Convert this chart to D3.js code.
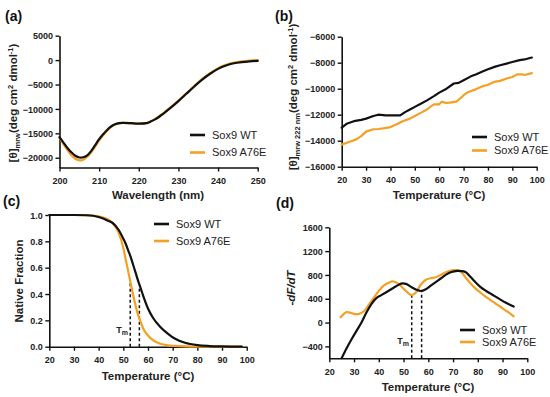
<!DOCTYPE html>
<html><head><meta charset="utf-8">
<script src="https://cdn.jsdelivr.net/npm/d3@7/dist/d3.min.js"></script>
<style>
body{margin:0;background:#fff;}
svg{font-family:"Liberation Sans",Arial,sans-serif;}
</style></head>
<body><svg id="c" width="550" height="397"></svg>
<script>
// ---------- Data ----------
// (a) CD spectra
const wavelength = [200,201,202,203,204,205,206,207,208,209,210,211,212,213,214,215,216,218,220,222,223,224,225,226,228,230,232,234,236,238,240,242,244,246,248,250];
const cdWT   = [-15800,-16900,-18000,-18900,-19600,-19950,-19900,-19500,-18600,-17400,-16200,-15200,-14300,-13600,-13150,-12900,-12850,-12900,-13000,-12900,-12600,-12200,-11700,-11100,-9800,-8400,-6900,-5400,-4000,-2800,-1800,-1100,-650,-400,-250,-150];
const cdA76E = [-15900,-17200,-18400,-19500,-20200,-20550,-20400,-19800,-18900,-17700,-16500,-15400,-14500,-13700,-13200,-12950,-12850,-12950,-13000,-12850,-12550,-12100,-11600,-11000,-9700,-8300,-6800,-5300,-3850,-2650,-1650,-950,-500,-250,-100,0];

// (b) thermal melt at 222 nm
const tempB_WT = [20,22,25,28,30,33,35,38,40,42,44,46,48,50,53,55,58,60,63,66,68,70,73,75,78,80,83,85,88,90,93,95,98];
const melWT    = [-13000,-12700,-12500,-12400,-12300,-12100,-12000,-12050,-12050,-12050,-12050,-11800,-11600,-11400,-11100,-10900,-10550,-10300,-10000,-9600,-9550,-9350,-9050,-8900,-8650,-8500,-8300,-8200,-8050,-7950,-7800,-7750,-7600];
const tempB_A  = [20,23,26,28,30,33,35,37,40,43,45,48,50,53,55,57,58,60,61,62,63,65,67,68,70,72,75,78,80,83,85,88,90,92,94,95,98];
const melA76E  = [-14300,-14100,-13900,-13650,-13300,-13120,-13100,-13050,-12950,-12700,-12500,-12300,-12100,-11800,-11600,-11300,-11200,-11200,-11000,-11050,-11100,-11050,-11000,-10850,-10500,-10250,-10050,-9800,-9700,-9450,-9400,-9200,-9100,-8900,-8900,-8950,-8800];

// (c) native fraction
const tempC = [20,30,35,40,44,46,48,50,51,52,53,54,55,56,57,58,60,62,65,68,71,75,80,85,90,98];
const nfWT   = [1.0,1.0,0.998,0.985,0.955,0.935,0.89,0.82,0.78,0.73,0.68,0.62,0.56,0.50,0.445,0.39,0.29,0.22,0.15,0.10,0.06,0.03,0.012,0.005,0.002,0.0];
const nfA76E = [1.0,1.0,0.999,0.99,0.965,0.93,0.87,0.75,0.66,0.57,0.48,0.39,0.31,0.24,0.19,0.14,0.085,0.05,0.022,0.01,0.006,0.002,0.0,0.0,0.0,0.0];
const tmC = {WT:[56.5,0.46], A76E:[52.8,0.49]};

// (d) -dF/dT
const tempD_WT = [25,27,29,31,33,35,37,39,41,43,45,47,49,51,53,55,57,59,61,63,65,67,69,71,73,75,77,79,81,83,85,87,89,91,93,94.5];
const dWT      = [-597,-430,-280,-140,0,170,310,410,460,510,560,610,655,650,600,555,530,560,620,680,740,800,845,865,865,850,770,680,600,540,490,440,390,340,300,270];
const tempD_A  = [24.6,26,27,28,30,32,34,36,38,40,42,44,46,48,50,52,53.3,55,57,59,61,63,65,67,69,71,73,75,77,79,81,83,85,87,89,91,93,94.5];
const dA76E    = [90,150,175,170,145,145,190,300,420,530,620,670,690,650,570,490,460,505,640,720,745,760,800,845,875,880,865,760,660,575,505,440,380,325,270,210,155,105];
const tmD = {WT:[57.3,530], A76E:[53.3,460]};

const ticksA_x = [200,210,220,230,240,250], ticksA_y = [-20000,-15000,-10000,-5000,0,5000];
const ticksB_x = [20,30,40,50,60,70,80,90,100], ticksB_y = [-16000,-14000,-12000,-10000,-8000,-6000];
const ticksC_x = [20,30,40,50,60,70,80,90,100], ticksC_y = [0,0.2,0.4,0.6,0.8,1.0];
const ticksD_x = [20,30,40,50,60,70,80,90,100], ticksD_y = [-400,0,400,800,1200,1600];
const seriesNames = ["Sox9 WT","Sox9 A76E"];

// ---------- Drawing ----------
const svg = d3.select("#c");
const BLACK = "#111", ORANGE = "#f4a024";

function panel(o){
  const g = svg.append("g");
  const x = d3.scaleLinear().domain(o.xd).range([o.x0,o.x1]);
  const y = d3.scaleLinear().domain(o.yd).range([o.y1,o.y0]);
  const ax = g.append("g").attr("transform",`translate(0,${o.y1})`)
    .call(d3.axisBottom(x).tickValues(o.tx).tickSize(4).tickSizeOuter(0).tickPadding(3).tickFormat(d3.format("d")));
  const ay = g.append("g").attr("transform",`translate(${o.x0},0)`)
    .call(d3.axisLeft(y).tickValues(o.ty).tickSize(4).tickSizeOuter(0).tickPadding(2.5).tickFormat(o.fmt||d3.format("d")));
  [ax,ay].forEach(a=>{
    a.select(".domain").attr("stroke","#111").attr("stroke-width",1.6);
    a.selectAll(".tick line").attr("stroke","#111").attr("stroke-width",1.4);
    a.selectAll("text").attr("font-size",9).attr("font-weight","bold").attr("fill","#222");
  });
  ax.selectAll("text").attr("dy","1.05em");
  ay.selectAll("text").attr("dy","0.35em");
  return {g,x,y};
}

function drawLine(p, xs, ys, color, curve){
  const pts = xs.map((v,i)=>[v,ys[i]]);
  p.g.append("path").datum(pts)
    .attr("fill","none").attr("stroke",color).attr("stroke-width",2.2)
    .attr("stroke-linejoin","round").attr("stroke-linecap","round")
    .attr("d", d3.line().x(d=>p.x(d[0])).y(d=>p.y(d[1])).curve(curve||d3.curveMonotoneX));
}

function legend(lx, ly, dy){
  [BLACK,ORANGE].forEach((c,i)=>{
    svg.append("line").attr("x1",lx).attr("x2",lx+15).attr("y1",ly+i*dy).attr("y2",ly+i*dy)
      .attr("stroke",c).attr("stroke-width",2.6);
    svg.append("text").attr("x",lx+22).attr("y",ly+i*dy).attr("dy","0.35em")
      .attr("font-size",11).attr("fill","#222").text(seriesNames[i]);
  });
}

function title(t,x,y){
  svg.append("text").attr("x",x).attr("y",y).attr("font-size",14).attr("font-weight","bold").attr("fill","#111").text(t);
}

function xLabel(t,x,y){
  svg.append("text").attr("x",x).attr("y",y).attr("text-anchor","middle").attr("font-size",11.5)
    .attr("font-weight","bold").attr("fill","#222").text(t);
}

function yLabelParts(parts,x,y,italic){
  const t = svg.append("text").attr("transform",`translate(${x},${y}) rotate(-90)`)
    .attr("text-anchor","middle").attr("font-size",11.5).attr("font-weight","bold").attr("fill","#222");
  if(italic) t.attr("font-style","italic");
  parts.forEach(p=>{
    const s = t.append("tspan").text(p[0]);
    if(p[1]==="sub") s.attr("font-size",7.5).attr("dy",3);
    if(p[1]==="sup") s.attr("font-size",7.5).attr("dy",-4);
    if(p[1]==="base") s.attr("dy",p[2]);
  });
}

function tmMarks(p, tm, yr){
  [tm.WT, tm.A76E].forEach(d=>{
    p.g.append("line").attr("x1",p.x(d[0])).attr("x2",p.x(d[0]))
      .attr("y1",p.y(yr)).attr("y2",p.y(d[1]))
      .attr("stroke","#111").attr("stroke-width",1.5).attr("stroke-dasharray","3,2.5");
  });
}

function tmLabel(x,y){
  const t = svg.append("text").attr("x",x).attr("y",y).attr("text-anchor","end")
    .attr("font-size",9).attr("font-weight","bold").attr("fill","#222");
  t.append("tspan").text("T");
  t.append("tspan").text("m").attr("font-size",7).attr("dy",2);
}

// Panel (a)
const pa = panel({xd:[200,250], yd:[-22000,5000], x0:59.5, x1:257.7, y0:35.7, y1:167.5, tx:ticksA_x, ty:ticksA_y});
drawLine(pa, wavelength, cdA76E, ORANGE, d3.curveCatmullRom);
drawLine(pa, wavelength, cdWT, BLACK, d3.curveCatmullRom);
legend(190, 135, 17.5);
title("(a)", 5, 21);
xLabel("Wavelength (nm)", 158, 199);
yLabelParts([["[θ]"],["mrw","sub"],["(deg cm","base",-3],["2","sup"],[" dmol","base",4],["-1","sup"],[")","base",4]], 17, 103);

// Panel (b)
const pb = panel({xd:[20,100], yd:[-16000,-6000], x0:341.7, x1:536.7, y0:36.7, y1:166.7, tx:ticksB_x, ty:ticksB_y});
drawLine(pb, tempB_A, melA76E, ORANGE, d3.curveLinear);
drawLine(pb, tempB_WT, melWT, BLACK, d3.curveLinear);
legend(472, 137, 13.5);
title("(b)", 275, 21);
xLabel("Temperature (°C)", 439, 199);
yLabelParts([["[θ]"],["mrw 222 nm","sub"],["(deg cm","base",-3],["2","sup"],[" dmol","base",4],["-1","sup"],[")","base",4]], 297, 97);

// Panel (c)
const pc = panel({xd:[20,100], yd:[0,1], x0:49.3, x1:246.7, y0:215, y1:346.7, tx:ticksC_x, ty:ticksC_y, fmt:d3.format(".1f")});
tmMarks(pc, tmC, 0);
drawLine(pc, tempC, nfA76E, ORANGE);
drawLine(pc, tempC, nfWT, BLACK);
legend(154, 224, 17);
title("(c)", 3, 206);
xLabel("Temperature (°C)", 148, 380);
yLabelParts([["Native Fraction"]], 23, 281);
tmLabel(128, 333);

// Panel (d)
const pd = panel({xd:[20,100], yd:[-600,1600], x0:329.3, x1:527.3, y0:227.3, y1:358.3, tx:ticksD_x, ty:ticksD_y});
tmMarks(pd, tmD, -600);
drawLine(pd, tempD_A, dA76E, ORANGE, d3.curveCatmullRom);
drawLine(pd, tempD_WT, dWT, BLACK, d3.curveCatmullRom);
legend(460, 330, 12);
title("(d)", 276, 208);
xLabel("Temperature (°C)", 428, 391);
yLabelParts([["-dF/dT"]], 295, 288, true);
tmLabel(409, 344);
</script></body></html>
